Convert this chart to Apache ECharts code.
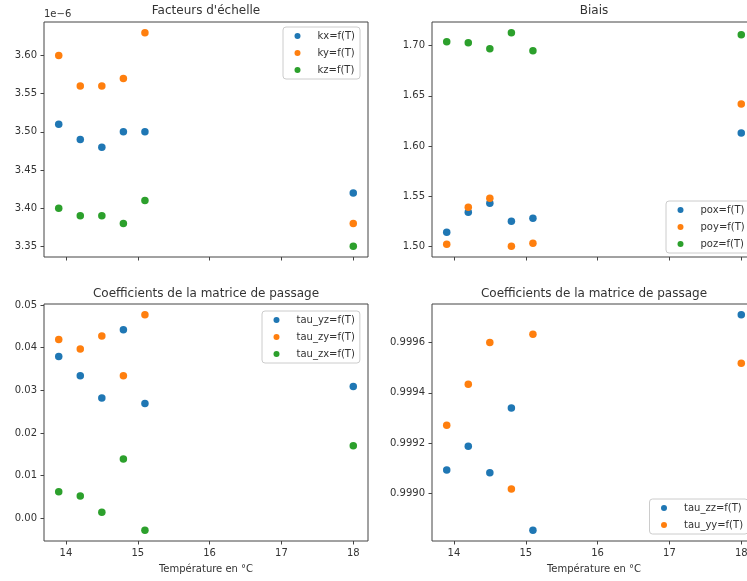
<!DOCTYPE html>
<html>
<head>
<meta charset="utf-8">
<script src="https://cdn.jsdelivr.net/npm/echarts@6/dist/echarts.min.js"></script>
<style>
html,body{margin:0;padding:0;background:#fff;}
#chart{width:747px;height:581px;}
</style>
</head>
<body>
<div id="chart"></div>
<script>
// ---- data ----
const temperatures = [13.9, 14.2, 14.5, 14.8, 15.1, 18];
const kx = [3.51e-6, 3.49e-6, 3.48e-6, 3.50e-6, 3.50e-6, 3.42e-6];
const ky = [3.60e-6, 3.56e-6, 3.56e-6, 3.57e-6, 3.63e-6, 3.38e-6];
const kz = [3.40e-6, 3.39e-6, 3.39e-6, 3.38e-6, 3.41e-6, 3.35e-6];
const pox = [1.514, 1.534, 1.543, 1.525, 1.528, 1.613];
const poy = [1.502, 1.539, 1.548, 1.500, 1.503, 1.642];
const poz = [1.704, 1.703, 1.697, 1.713, 1.695, 1.711];
const tau_yz = [0.0379, 0.0334, 0.0282, 0.0442, 0.0269, 0.0309];
const tau_zy = [0.0419, 0.0397, 0.0427, 0.0334, 0.0477, null];
const tau_zx = [0.0062, 0.0052, 0.0014, 0.0139, -0.0028, 0.0170];
const tau_zz = [0.999092, 0.999187, 0.999081, 0.999339, 0.998852, 0.999711];
const tau_yy = [0.999271, 0.999434, 0.999600, 0.999016, 0.999633, 0.999518];

// ---- tick labels ----
const xTicks = [14, 15, 16, 17, 18];
const yTicksScale = [3.35e-6, 3.40e-6, 3.45e-6, 3.50e-6, 3.55e-6, 3.60e-6];
const yTicksBias = [1.50, 1.55, 1.60, 1.65, 1.70];
const yTicksTau1 = [0.00, 0.01, 0.02, 0.03, 0.04, 0.05];
const yTicksTau2 = [0.9990, 0.9992, 0.9994, 0.9996];

const titles = ["Facteurs d'échelle", "Biais", "Coefficients de la matrice de passage", "Coefficients de la matrice de passage"];
const xLabel = "Température en °C";

const C = ['#1f77b4', '#ff7f0e', '#2ca02c'];
const FONT = 'DejaVu Sans';
const TXT = '#333';
const LINE = '#444';

function padRange(arrs) {
  const vals = [].concat(...arrs).filter(v => v != null);
  const lo = Math.min(...vals), hi = Math.max(...vals);
  const m = (hi - lo) * 0.05;
  return [lo - m, hi + m];
}
const xr = padRange([temperatures]);

const grids = [
  {left: 44, top: 22, width: 324, height: 235},
  {left: 432, top: 22, width: 324, height: 235},
  {left: 44, top: 304, width: 324, height: 237},
  {left: 432, top: 304, width: 324, height: 237}
].map(g => Object.assign(g, {show: true, borderColor: LINE, borderWidth: 1, backgroundColor: 'transparent', containLabel: false, outerBoundsMode: 'none'}));

function xAxis(i, labels) {
  return {
    type: 'value', gridIndex: i, min: xr[0], max: xr[1],
    axisLine: {show: false, onZero: false},
    splitLine: {show: false},
    axisTick: {show: true, length: 3.5, customValues: xTicks, lineStyle: {color: LINE, width: 1}},
    axisLabel: {show: labels, customValues: xTicks, margin: 7, color: TXT, fontSize: 10, fontFamily: FONT, formatter: v => String(v)},
    name: labels ? xLabel : '', nameLocation: 'middle', nameGap: 23,
    nameTextStyle: {color: TXT, fontSize: 10, fontFamily: FONT}
  };
}
function yAxis(i, range, ticks, fmt) {
  return {
    type: 'value', gridIndex: i, min: range[0], max: range[1],
    axisLine: {show: false, onZero: false},
    splitLine: {show: false},
    axisTick: {show: true, length: 3.5, customValues: ticks, lineStyle: {color: LINE, width: 1}},
    axisLabel: {customValues: ticks, margin: 7, color: TXT, fontSize: 10, fontFamily: FONT, formatter: fmt}
  };
}

function sc(name, arr, g, c) {
  return {
    name: name, type: 'scatter', xAxisIndex: g, yAxisIndex: g,
    data: temperatures.map((t, i) => [t, arr[i]]).filter(d => d[1] != null),
    symbol: 'circle', symbolSize: 7.5,
    itemStyle: {color: C[c], opacity: 1},
    emphasis: {disabled: true}, silent: true
  };
}

function legend(names, left, top) {
  return {
    data: names, left: left, top: top, orient: 'vertical',
    icon: 'circle', itemWidth: 6, itemHeight: 6, itemGap: 5,
    padding: [3, 5, 3, 11.5],
    backgroundColor: 'rgba(255,255,255,0.8)', borderColor: '#cccccc', borderWidth: 1, borderRadius: 3,
    textStyle: {color: TXT, fontSize: 10, fontFamily: FONT, lineHeight: 12, padding: [0, 0, 0, 12]},
    selectedMode: false
  };
}

const titleCenters = [[206, 5], [594, 5], [206, 288], [594, 288]];

const option = {
  animation: false,
  backgroundColor: '#fff',
  title: titles.map((t, i) => ({
    text: t, left: titleCenters[i][0], top: titleCenters[i][1], textAlign: 'center', padding: 0,
    textStyle: {color: TXT, fontSize: 12, fontWeight: 'normal', fontFamily: FONT}
  })),
  grid: grids,
  xAxis: [xAxis(0, false), xAxis(1, false), xAxis(2, true), xAxis(3, true)],
  yAxis: [
    yAxis(0, padRange([kx, ky, kz]), yTicksScale, v => (v * 1e6).toFixed(2)),
    yAxis(1, padRange([pox, poy, poz]), yTicksBias, v => v.toFixed(2)),
    yAxis(2, padRange([tau_yz, tau_zy, tau_zx]), yTicksTau1, v => v.toFixed(2)),
    yAxis(3, padRange([tau_zz, tau_yy]), yTicksTau2, v => v.toFixed(4))
  ],
  legend: [
    legend(['kx=f(T)', 'ky=f(T)', 'kz=f(T)'], 283, 27),
    legend(['pox=f(T)', 'poy=f(T)', 'poz=f(T)'], 666, 201),
    legend(['tau_yz=f(T)', 'tau_zy=f(T)', 'tau_zx=f(T)'], 262, 311),
    legend(['tau_zz=f(T)', 'tau_yy=f(T)'], 649.5, 499)
  ],
  graphic: [{
    type: 'text', left: 44, top: 9,
    style: {text: '1e\u22126', fill: TXT, fontSize: 10, fontFamily: FONT}
  }],
  series: [
    sc('kx=f(T)', kx, 0, 0), sc('ky=f(T)', ky, 0, 1), sc('kz=f(T)', kz, 0, 2),
    sc('pox=f(T)', pox, 1, 0), sc('poy=f(T)', poy, 1, 1), sc('poz=f(T)', poz, 1, 2),
    sc('tau_yz=f(T)', tau_yz, 2, 0), sc('tau_zy=f(T)', tau_zy, 2, 1), sc('tau_zx=f(T)', tau_zx, 2, 2),
    sc('tau_zz=f(T)', tau_zz, 3, 0), sc('tau_yy=f(T)', tau_yy, 3, 1)
  ]
};

const chart = echarts.init(document.getElementById('chart'), null, {renderer: 'canvas'});
chart.setOption(option);
</script>
</body>
</html>
